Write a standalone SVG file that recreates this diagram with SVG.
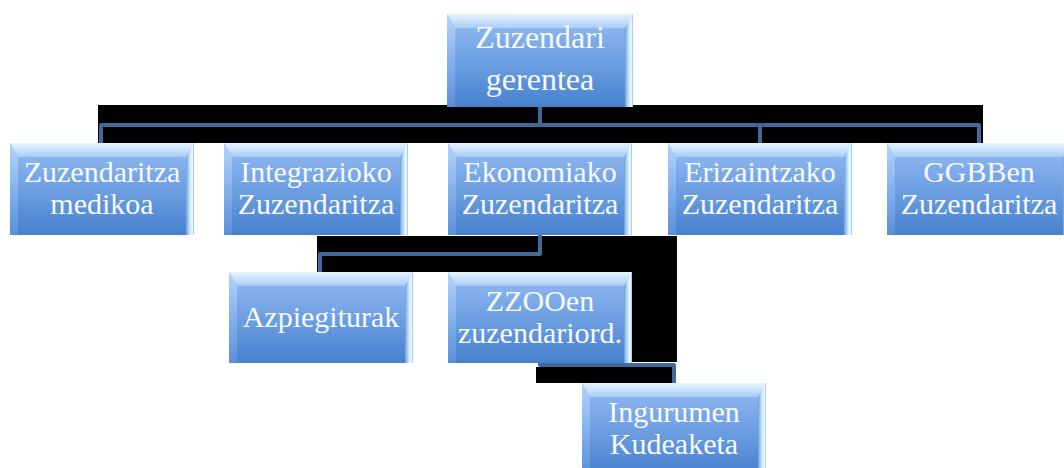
<svg xmlns="http://www.w3.org/2000/svg" xmlns:xlink="http://www.w3.org/1999/xlink" width="1064" height="468" viewBox="0 0 1064 468">
  <defs>
    <linearGradient id="body" x1="0" y1="0" x2="0" y2="1">
      <stop offset="0" stop-color="#95BDF3"/>
      <stop offset="0.5" stop-color="#6E9FE2"/>
      <stop offset="1" stop-color="#4781CE"/>
    </linearGradient>
    <linearGradient id="topBevel" x1="0" y1="0" x2="0" y2="1">
      <stop offset="0" stop-color="#E8F5FF"/>
      <stop offset="1" stop-color="#A9CCF7"/>
    </linearGradient>
    <linearGradient id="leftBevel" x1="0" y1="0" x2="0" y2="1">
      <stop offset="0" stop-color="#B4D4FA"/>
      <stop offset="0.5" stop-color="#85B2EE"/>
      <stop offset="1" stop-color="#5A8FD8"/>
    </linearGradient>
    <linearGradient id="rightBevel" x1="0" y1="0" x2="1" y2="0">
      <stop offset="0" stop-color="#6E9FE2"/>
      <stop offset="0.55" stop-color="#D6EEFF"/>
      <stop offset="0.85" stop-color="#EAF7FF"/>
      <stop offset="1" stop-color="#7FAEEA"/>
    </linearGradient>
    <symbol id="box" viewBox="0 0 184 92" preserveAspectRatio="none">
      <rect x="0" y="0" width="184" height="92" fill="url(#body)"/>
      <polygon points="0,0 184,0 176,14 8,14" fill="url(#topBevel)"/>
      <polygon points="0,0 8,14 8,92 0,92" fill="url(#leftBevel)"/>
      <polygon points="184,0 176,14 176,92 184,92" fill="url(#rightBevel)"/>
    </symbol>
  </defs>
  <style>
    .lbl { font-family: "Liberation Serif", "Times New Roman", serif; font-size: 30px; fill: #F7FAFF; text-anchor: middle; }
    .root { font-size: 32px; }
    .conn { fill: none; stroke: #41699B; stroke-width: 4; stroke-linejoin: round; }
    .shadow { fill: #000000; }
  </style>
  <rect width="1064" height="468" fill="#FFFFFF"/>
  <g id="shadows">
    <rect class="shadow" x="98" y="105" width="885" height="38"/>
    <polygon class="shadow" points="317,236 677,236 677,362 632,362 632,272 317,272"/>
    <rect class="shadow" x="536" y="367" width="136" height="16"/>
  </g>
  <g id="connectors">
    <path class="conn" d="M540 107 V125 H101 V143"/>
    <path class="conn" d="M540 125 H979 V143"/>
    <path class="conn" d="M760 125 V143"/>
    <path class="conn" d="M540 235 V254 H320 V272"/>
    <path class="conn" d="M540 363 V365 H674 V383"/>
  </g>
  <g id="node-root">
    <use xlink:href="#box" x="447" y="14" width="186" height="93"/>
    <text class="lbl root" x="540" y="48">Zuzendari</text>
    <text class="lbl root" x="540" y="90">gerentea</text>
  </g>
  <g id="node-medikoa">
    <use xlink:href="#box" x="10" y="143" width="184" height="92"/>
    <text class="lbl" x="102" y="182">Zuzendaritza</text>
    <text class="lbl" x="102" y="214">medikoa</text>
  </g>
  <g id="node-integrazioko">
    <use xlink:href="#box" x="224" y="143" width="184" height="92"/>
    <text class="lbl" x="316" y="182">Integrazioko</text>
    <text class="lbl" x="316" y="214">Zuzendaritza</text>
  </g>
  <g id="node-ekonomiako">
    <use xlink:href="#box" x="448" y="143" width="184" height="92"/>
    <text class="lbl" x="540" y="182">Ekonomiako</text>
    <text class="lbl" x="540" y="214">Zuzendaritza</text>
  </g>
  <g id="node-erizaintzako">
    <use xlink:href="#box" x="668" y="143" width="184" height="92"/>
    <text class="lbl" x="760" y="182">Erizaintzako</text>
    <text class="lbl" x="760" y="214">Zuzendaritza</text>
  </g>
  <g id="node-ggbben">
    <use xlink:href="#box" x="887" y="143" width="184" height="92"/>
    <text class="lbl" x="979" y="182">GGBBen</text>
    <text class="lbl" x="979" y="214">Zuzendaritza</text>
  </g>
  <g id="node-azpiegiturak">
    <use xlink:href="#box" x="229" y="272" width="184" height="91"/>
    <text class="lbl" x="321" y="327">Azpiegiturak</text>
  </g>
  <g id="node-zzooen">
    <use xlink:href="#box" x="448" y="272" width="184" height="91"/>
    <text class="lbl" x="540" y="311">ZZOOen</text>
    <text class="lbl" x="540" y="343">zuzendariord.</text>
  </g>
  <g id="node-ingurumen">
    <use xlink:href="#box" x="582" y="383" width="184" height="92"/>
    <text class="lbl" x="674" y="422">Ingurumen</text>
    <text class="lbl" x="674" y="454">Kudeaketa</text>
  </g>
</svg>
